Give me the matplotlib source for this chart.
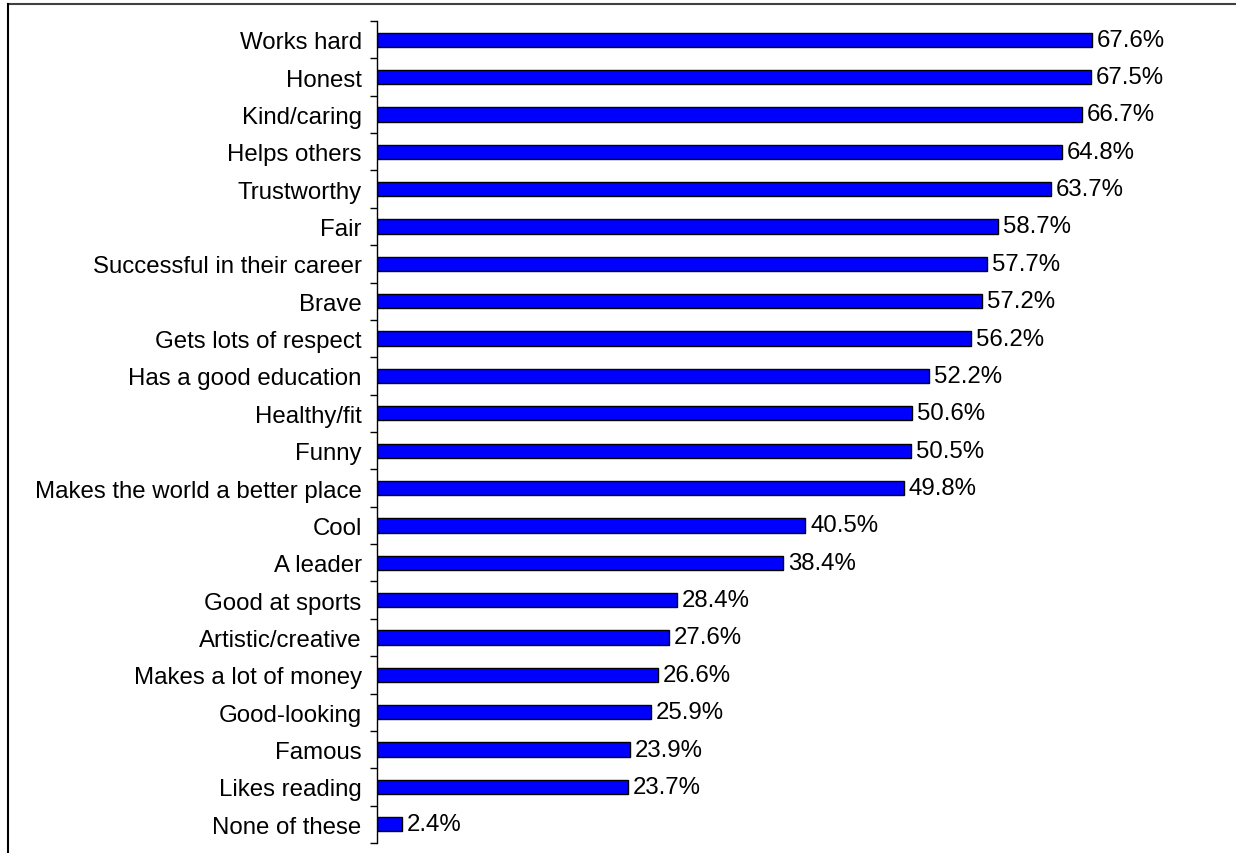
import numpy as np
import matplotlib
matplotlib.use("Agg")
import matplotlib.pyplot as plt
from matplotlib.lines import Line2D

plt.rcParams["font.family"] = ["Liberation Sans", "DejaVu Sans"]

# dados (ordem de cima para baixo)
labels = ["Works hard", "Honest", "Kind/caring", "Helps others", "Trustworthy",
          "Fair", "Successful in their career", "Brave", "Gets lots of respect",
          "Has a good education", "Healthy/fit", "Funny",
          "Makes the world a better place", "Cool", "A leader", "Good at sports",
          "Artistic/creative", "Makes a lot of money", "Good-looking", "Famous",
          "Likes reading", "None of these"]
values = [67.6, 67.5, 66.7, 64.8, 63.7, 58.7, 57.7, 57.2, 56.2, 52.2, 50.6, 50.5,
          49.8, 40.5, 38.4, 28.4, 27.6, 26.6, 25.9, 23.9, 23.7, 2.4]

FS = 17.3
W, H = 1236, 854
fig = plt.figure(figsize=(W / 100, H / 100), dpi=100)
x0 = 377 / W
ax = fig.add_axes([x0, 1 - 844 / H, 1223 / W - x0, (844 - 22) / H])

y = np.arange(len(labels))
ax.barh(y, values, height=0.38, color="#0000FF", edgecolor="black", linewidth=1.0)
for yi, v in zip(y, values):
    ax.text(v + 0.45, yi, f"{v:.1f}%", va="center", ha="left", fontsize=FS)

ax.set_xlim(0, 80)
ax.set_ylim(len(labels) - 0.5, -0.5)
ax.set_yticks(y)
ax.set_yticklabels(labels, fontsize=FS)
ax.set_yticks(np.arange(len(labels) + 1) - 0.5, minor=True)
ax.tick_params(axis="y", which="major", length=0, pad=11)
ax.tick_params(axis="y", which="minor", length=5, width=1, direction="out", color="black")
ax.xaxis.set_visible(False)
for s in ("top", "right", "bottom"):
    ax.spines[s].set_visible(False)
ax.spines["left"].set_linewidth(1.0)

# moldura da figura (so topo e esquerda aparecem)
fig.add_artist(Line2D([8 / W, 1], [1 - 5 / H, 1 - 5 / H], transform=fig.transFigure,
                      color="#404040", lw=1.5))
fig.add_artist(Line2D([8 / W, 8 / W], [0, 1 - 5 / H], transform=fig.transFigure,
                      color="black", lw=1.5))

fig.savefig("out.png", dpi=100)
